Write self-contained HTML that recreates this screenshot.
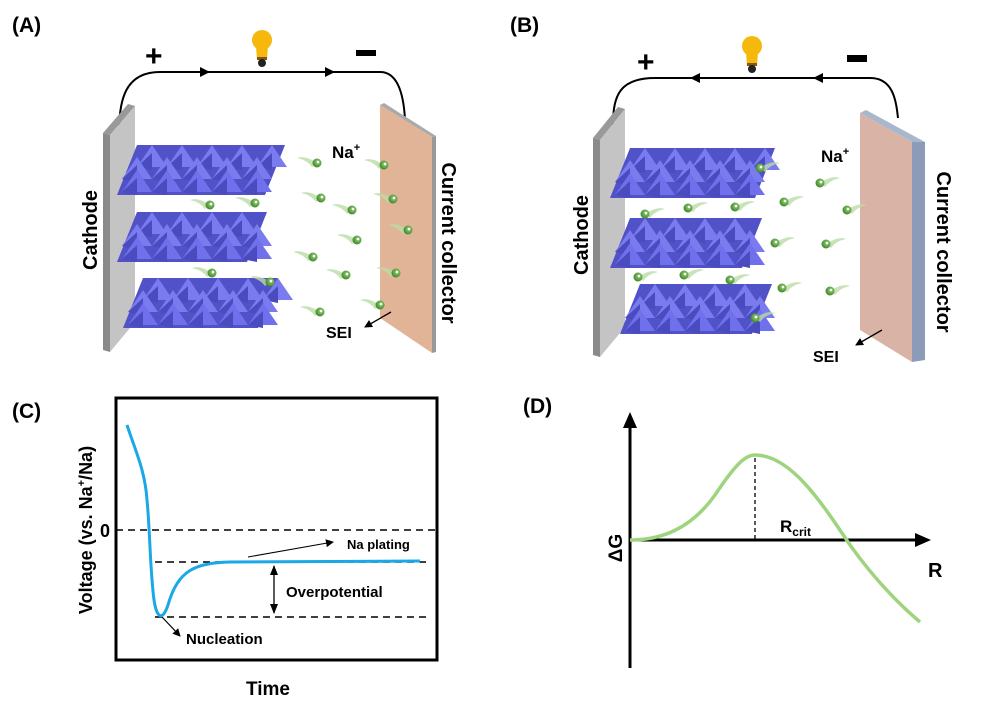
<!DOCTYPE html>
<html><head><meta charset="utf-8"><style>
body{margin:0;background:#fff;width:999px;height:710px;overflow:hidden}
svg{display:block;font-family:"Liberation Sans",Arial,sans-serif;font-weight:bold}
</style></head><body>
<svg id="s" width="999" height="710" viewBox="0 0 999 710" xmlns="http://www.w3.org/2000/svg">
<defs>
<marker id="ah" markerWidth="8" markerHeight="8" refX="7" refY="4" orient="auto" markerUnits="userSpaceOnUse"><path d="M0,0 L8,4 L0,8 Z" fill="#000"/></marker>
<marker id="ah2" markerWidth="10" markerHeight="10" refX="9" refY="5" orient="auto-start-reverse" markerUnits="userSpaceOnUse"><path d="M0,1 L10,5 L0,9 Z" fill="#000"/></marker>
<radialGradient id="na" cx="0.6" cy="0.4" r="0.6"><stop offset="0" stop-color="#9ad07a"/><stop offset="1" stop-color="#3f8a2a"/></radialGradient>
</defs>
<text x="12" y="32" font-size="21">(A)</text>
<text x="510" y="32" font-size="21">(B)</text>
<text x="12" y="418" font-size="21">(C)</text>
<text x="523" y="413" font-size="21">(D)</text>

<!-- Panel A -->
<path d="M119,133 C119,100 125,72 160,72 L380,72 C400,72 404,100 405,120" fill="none" stroke="#000" stroke-width="2"/>
<path d="M200,67 L210,72 L200,77Z M325,67 L335,72 L325,77Z"/>
<text x="145" y="66" font-size="30">+</text>
<rect x="356" y="50" width="20" height="6"/>
<g transform="translate(262,40)"><circle r="10" fill="#f6b80c"/><path d="M-6,6 L6,6 L5,20 L-5,20Z" fill="#f6b80c"/><rect x="-5" y="17" width="10" height="3" fill="#7a5a10"/><circle cy="23" r="4" fill="#222"/></g>
<polygon points="103,133 128,104 135,106 110,135" fill="#999"/>
<polygon points="103,133 110,135 110,352 103,350" fill="#8a8a8a"/>
<polygon points="110,135 135,106 135,322 110,352" fill="#c4c4c4"/>
<polygon points="380,105 432,137 432,353 380,318" fill="#e2b497"/>
<polygon points="380,105 384,103 436,136 432,137" fill="#aaa"/>
<polygon points="432,137 436,136 436,352 432,353" fill="#999"/>
<text transform="translate(97,230) rotate(-90)" font-size="20" text-anchor="middle">Cathode</text>
<text transform="translate(442,243) rotate(90)" font-size="20" text-anchor="middle">Current collector</text>
<text x="332" y="158" font-size="17">Na<tspan font-size="11" dy="-7">+</tspan></text>
<text x="326" y="338" font-size="16">SEI</text>
<line x1="391" y1="312" x2="365" y2="327" stroke="#000" stroke-width="1.3" marker-end="url(#ah)"/>

<!-- Panel B -->
<path d="M613,125 C613,95 620,78 655,78 L870,78 C893,78 896,100 898,118" fill="none" stroke="#000" stroke-width="2"/>
<path d="M700,73 L690,78 L700,83Z M823,73 L813,78 L823,83Z"/>
<text x="637" y="72" font-size="30">+</text>
<rect x="847" y="55" width="20" height="7"/>
<g transform="translate(752,46)"><circle r="10" fill="#f6b80c"/><path d="M-6,6 L6,6 L5,20 L-5,20Z" fill="#f6b80c"/><rect x="-5" y="17" width="10" height="3" fill="#7a5a10"/><circle cy="23" r="4" fill="#222"/></g>
<polygon points="593,138 618,107 625,109 600,140" fill="#999"/>
<polygon points="593,138 600,140 600,357 593,355" fill="#8a8a8a"/>
<polygon points="600,140 625,109 625,327 600,357" fill="#c4c4c4"/>
<polygon points="860,113 912,142 912,362 860,330" fill="#d9b4a6"/>
<polygon points="860,113 866,110 925,142 912,142" fill="#a9b7cc"/>
<polygon points="912,142 925,142 925,360 912,362" fill="#8c9cb8"/>
<text transform="translate(588,235) rotate(-90)" font-size="20" text-anchor="middle">Cathode</text>
<text transform="translate(937,252) rotate(90)" font-size="20" text-anchor="middle">Current collector</text>
<text x="821" y="162" font-size="17">Na<tspan font-size="11" dy="-7">+</tspan></text>
<text x="813" y="362" font-size="16">SEI</text>
<line x1="882" y1="330" x2="856" y2="345" stroke="#000" stroke-width="1.3" marker-end="url(#ah)"/>

<g id="slabs"></g>
<g id="ions"></g>

<!-- Panel C -->
<rect x="116" y="398" width="321" height="262" fill="none" stroke="#000" stroke-width="3"/>
<line x1="116" y1="530" x2="437" y2="530" stroke="#000" stroke-width="1.5" stroke-dasharray="7,5"/>
<line x1="155" y1="562" x2="430" y2="562" stroke="#000" stroke-width="1.5" stroke-dasharray="7,5"/>
<line x1="155" y1="617" x2="430" y2="617" stroke="#000" stroke-width="1.5" stroke-dasharray="7,5"/>
<path d="M127,425 C135,450 145,470 147,500 C150,530 150,570 154,600 C157,620 163,620 168,605 C178,570 195,563 230,562 L420,561" fill="none" stroke="#1aa8e6" stroke-width="3"/>
<text x="100" y="537" font-size="18">0</text>
<line x1="274" y1="566" x2="274" y2="613" stroke="#000" stroke-width="1.3" marker-start="url(#ah2)" marker-end="url(#ah2)"/>
<text x="286" y="597" font-size="15">Overpotential</text>
<line x1="248" y1="557" x2="333" y2="542" stroke="#000" stroke-width="1" marker-end="url(#ah)"/>
<text x="347" y="549" font-size="13">Na plating</text>
<line x1="162" y1="617" x2="180" y2="636" stroke="#000" stroke-width="1.2" marker-end="url(#ah)"/>
<text x="186" y="644" font-size="15">Nucleation</text>
<text x="268" y="695" font-size="19" text-anchor="middle">Time</text>
<text transform="translate(92,530) rotate(-90)" font-size="18" text-anchor="middle">Voltage (vs. Na<tspan font-size="11" dy="-7">+</tspan><tspan dy="7">/Na)</tspan></text>

<!-- Panel D -->
<line x1="630" y1="668" x2="630" y2="425" stroke="#000" stroke-width="3"/>
<path d="M623,428 L630,412 L637,428Z"/>
<line x1="630" y1="540" x2="918" y2="540" stroke="#000" stroke-width="3"/>
<path d="M915,533 L931,540 L915,547Z"/>
<path d="M630,540 C660,540 690,530 715,495 C735,465 745,455 755,455 C790,455 820,500 850,545 C875,580 900,605 920,622" fill="none" stroke="#9fd47e" stroke-width="3.5"/>
<line x1="755" y1="458" x2="755" y2="540" stroke="#000" stroke-width="1.3" stroke-dasharray="4,3"/>
<text x="780" y="532" font-size="17">R<tspan font-size="12" dy="4">crit</tspan></text>
<text x="928" y="577" font-size="20">R</text>
<text transform="translate(622,548) rotate(-90)" font-size="19" text-anchor="middle">ΔG</text>
</svg>
<script>
var NS="http://www.w3.org/2000/svg";
function el(t,a,p){var e=document.createElementNS(NS,t);for(var k in a)e.setAttribute(k,a[k]);p.appendChild(e);return e;}
var S=document.getElementById("slabs");
function slab(x,y,w){
 var rows=[[x+30,y,w-30],[x+15,y+12,w-25],[x,y+25,w-20]];
 el("polygon",{points:(x+30)+","+y+" "+(x+w)+","+y+" "+(x+w-20)+","+(y+50)+" "+(x+10)+","+(y+50),fill:"#5252c8"},S);
 for(var r=0;r<3;r++){
  var rx=rows[r][0],ry=rows[r][1],rw=rows[r][2];var n=Math.round(rw/30);
  for(var i=0;i<n;i++){var cx=rx+i*30+(r==2?15:0);
   el("polygon",{points:cx+","+(ry+22)+" "+(cx+15)+","+ry+" "+(cx+30)+","+(ry+22),fill:r==2?"#7070ec":"#7b7bf0"},S);
   el("polygon",{points:cx+","+(ry+22)+" "+(cx+15)+","+(ry+8)+" "+(cx+15)+","+(ry+25),fill:"#4b4bc0"},S);
  }
 }
}
slab(107,145,178);slab(107,212,160);slab(113,278,165);
slab(600,148,175);slab(600,218,162);slab(610,284,162);
var I=document.getElementById("ions");
function ion(x,y,d){
 el("path",{d:"M"+x+","+y+" q"+(-12*d)+",-8 "+(-20*d)+",-5 q"+(10*d)+",2 "+(15*d)+",9z",fill:"#b9dca5",opacity:"0.8"},I);
 el("circle",{cx:x,cy:y,r:4.5,fill:"url(#na)"},I);
 el("circle",{cx:x+1,cy:y-1,r:1.3,fill:"#fff"},I);
}
[[317,163],[321,198],[352,210],[357,240],[313,257],[346,275],[320,312],[210,205],[255,203],[212,273],[270,282],[384,165],[393,199],[408,230],[396,273],[380,305]].forEach(function(p){ion(p[0],p[1],1);});
[[760,168],[820,183],[784,202],[847,210],[735,207],[688,208],[645,214],[775,243],[826,244],[638,277],[684,275],[730,280],[782,288],[830,291],[755,318]].forEach(function(p){ion(p[0],p[1],-1);});
</script>
</body></html>
